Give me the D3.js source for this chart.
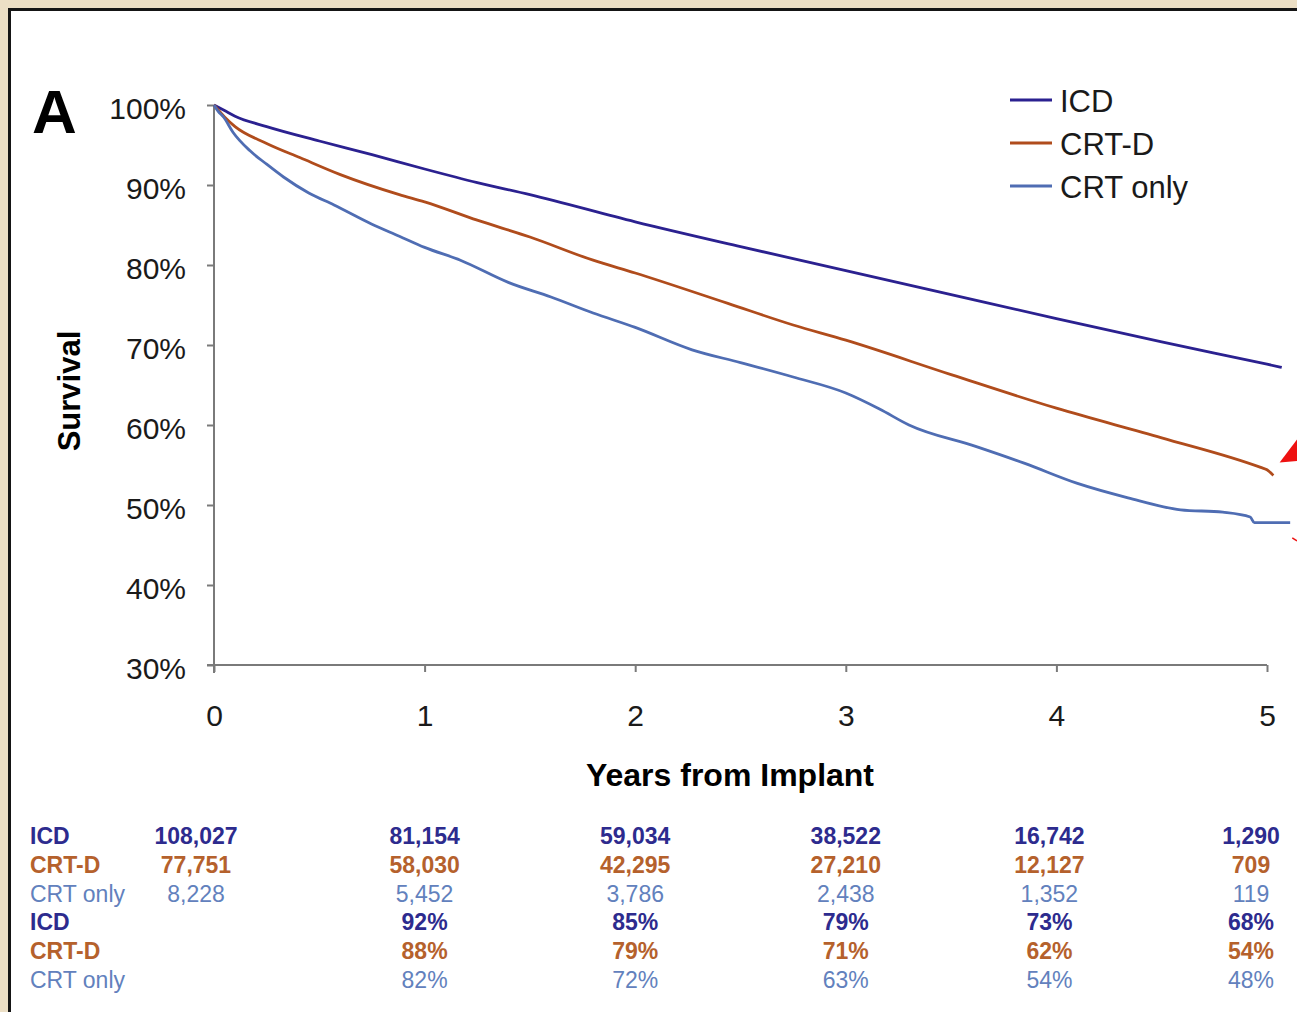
<!DOCTYPE html>
<meta charset="utf-8">
<script src="https://d3js.org/d3.v7.min.js"></script>
<style>
  body { margin: 0; background: #ecdfc5; }
  text { font-family: "Liberation Sans", Arial, sans-serif; }
</style>
<div id="chart"></div>

<script>

// survival curves: [years from implant, survival %]
const icd = [[0,100],[0.05,99.3],[0.1,98.6],[0.25,97.3],[0.5,95.5],[0.75,93.8],[1,92],[1.25,90.3],[1.5,88.8],
  [2,85.4],[2.5,82.3],[3,79.3],[3.5,76.3],[4,73.3],[4.5,70.4],[5,67.6],[5.07,67.2]];
const crtd = [[0,100],[0.05,98.5],[0.1,97.3],[0.25,95.2],[0.41,93.4],[0.6,91.3],[0.88,88.8],[1,87.9],[1.25,85.6],
  [1.5,83.5],[1.8,80.6],[2,79],[2.44,75.2],[2.75,72.5],[3,70.6],[3.5,66.3],[4,62.1],[4.5,58.4],[4.97,54.7],
  [5.0,54.4],[5.03,53.7]];
const crtOnly = [[0,100],[0.02,99.2],[0.045,98.5],[0.09,96.6],[0.17,94.3],[0.25,92.6],[0.33,91],[0.45,89],
  [0.57,87.5],[0.75,85.1],[0.88,83.6],[1,82.2],[1.17,80.6],[1.4,77.8],[1.6,76],[1.8,74],[2,72.2],[2.27,69.4],
  [2.5,67.8],[2.75,66],[3,64],[3.16,62],[3.3,60],[3.62,57.3],[3.85,55.2],[4.1,52.7],[4.34,50.9],[4.59,49.4],
  [4.79,49.1],[4.92,48.5],[4.94,47.8],[5.11,47.8]];

const seriesNames = ["ICD", "CRT-D", "CRT only"];
const xTicks = [0, 1, 2, 3, 4, 5];
const yTicks = [30, 40, 50, 60, 70, 80, 90, 100];

// numbers at risk and survival table
const atRisk = {
  "ICD": ["108,027", "81,154", "59,034", "38,522", "16,742", "1,290"],
  "CRT-D": ["77,751", "58,030", "42,295", "27,210", "12,127", "709"],
  "CRT only": ["8,228", "5,452", "3,786", "2,438", "1,352", "119"]
};
const survPct = {
  "ICD": ["", "92%", "85%", "79%", "73%", "68%"],
  "CRT-D": ["", "88%", "79%", "71%", "62%", "54%"],
  "CRT only": ["", "82%", "72%", "63%", "54%", "48%"]
};

const W = 1297, H = 1012;
const lineColor = {"ICD": "#2b2190", "CRT-D": "#b04c1c", "CRT only": "#4f6db3"};
const textColor = {"ICD": "#2d2b8e", "CRT-D": "#b5612c", "CRT only": "#6281bd"};

const svg = d3.select("#chart").append("svg")
  .attr("width", W).attr("height", H);

// white panel with dark frame (runs off the right and bottom edges)
svg.append("rect")
  .attr("x", 9.5).attr("y", 9.5).attr("width", W + 20).attr("height", H + 20)
  .attr("fill", "#fff").attr("stroke", "#151515").attr("stroke-width", 3);

const x = d3.scaleLinear().domain([0, 5]).range([214, 1267]);
const y = d3.scaleLinear().domain([30, 100]).range([665, 105]);

// y axis
const yAxis = svg.append("g").attr("transform", "translate(214,0)")
  .call(d3.axisLeft(y).tickValues(yTicks).tickSize(7).tickPadding(21).tickFormat(d => d + "%"));
yAxis.select(".domain").attr("d", `M0,${y(100)}V${y(30) + 8}`);
yAxis.selectAll(".tick text").attr("dy", "0.45em");

// x axis
const xAxis = svg.append("g").attr("transform", `translate(0,${y(30)})`)
  .call(d3.axisBottom(x).tickValues(xTicks).tickSize(7).tickPadding(33).tickFormat(d3.format("d")));
xAxis.select(".domain").attr("d", `M${x(0) - 7},0H${x(5)}`);

svg.selectAll(".tick text").attr("font-size", 30).attr("fill", "#1a1a1a")
  .attr("font-family", "Liberation Sans, Arial, sans-serif");
svg.selectAll(".domain, .tick line").attr("stroke", "#7a7a7a").attr("stroke-width", 2);

// curves
const line = d3.line().x(d => x(d[0])).y(d => y(d[1])).curve(d3.curveMonotoneX);
const curves = [icd, crtd, crtOnly];
seriesNames.forEach((name, i) => {
  svg.append("path").datum(curves[i])
    .attr("d", line)
    .attr("fill", "none")
    .attr("stroke", lineColor[name])
    .attr("stroke-width", 2.8)
    .attr("stroke-linejoin", "round");
});

// red annotation arrows (clipped at the right edge)
svg.append("path")
  .attr("d", `M${x(5.06)},${y(55.3)}L${W},${y(58.2)}L${W},${y(55.5)}Z`)
  .attr("fill", "#ee1111");
svg.append("path")
  .attr("d", `M${x(5.12)},${y(45.9)}L${W},${y(45.5)}`)
  .attr("stroke", "#ee1111").attr("stroke-width", 1.5);

// panel letter
svg.append("text").attr("x", 32).attr("y", 133)
  .attr("font-size", 62).attr("font-weight", "bold").text("A");

// axis titles
svg.append("text").attr("transform", "translate(80,391) rotate(-90)")
  .attr("text-anchor", "middle").attr("font-size", 31).attr("font-weight", "bold")
  .text("Survival");
svg.append("text").attr("x", x(2.45)).attr("y", 786)
  .attr("text-anchor", "middle").attr("font-size", 32).attr("font-weight", "bold")
  .text("Years from Implant");

// legend
const legend = svg.append("g");
seriesNames.forEach((name, i) => {
  const ly = 100 + i * 43;
  legend.append("line").attr("x1", 1010).attr("x2", 1052).attr("y1", ly).attr("y2", ly)
    .attr("stroke", lineColor[name]).attr("stroke-width", 3);
  legend.append("text").attr("x", 1060).attr("y", ly + 12)
    .attr("font-size", 31).attr("fill", "#1a1a1a").text(name);
});

// table under the chart
const nudge = [-18, 0, 0, 0, -7, -16];
const rows = [];
seriesNames.forEach(n => rows.push({name: n, vals: atRisk[n]}));
seriesNames.forEach(n => rows.push({name: n, vals: survPct[n]}));
rows.forEach((r, i) => {
  const by = 844 + i * 28.8;
  const weight = r.name === "CRT only" ? "normal" : "bold";
  svg.append("text").attr("x", 30).attr("y", by)
    .attr("font-size", 23).attr("font-weight", weight).attr("fill", textColor[r.name])
    .text(r.name);
  r.vals.forEach((v, j) => {
    svg.append("text").attr("x", x(xTicks[j]) + nudge[j]).attr("y", by)
      .attr("text-anchor", "middle").attr("font-size", 23).attr("font-weight", weight)
      .attr("fill", textColor[r.name]).text(v);
  });
});

</script>
